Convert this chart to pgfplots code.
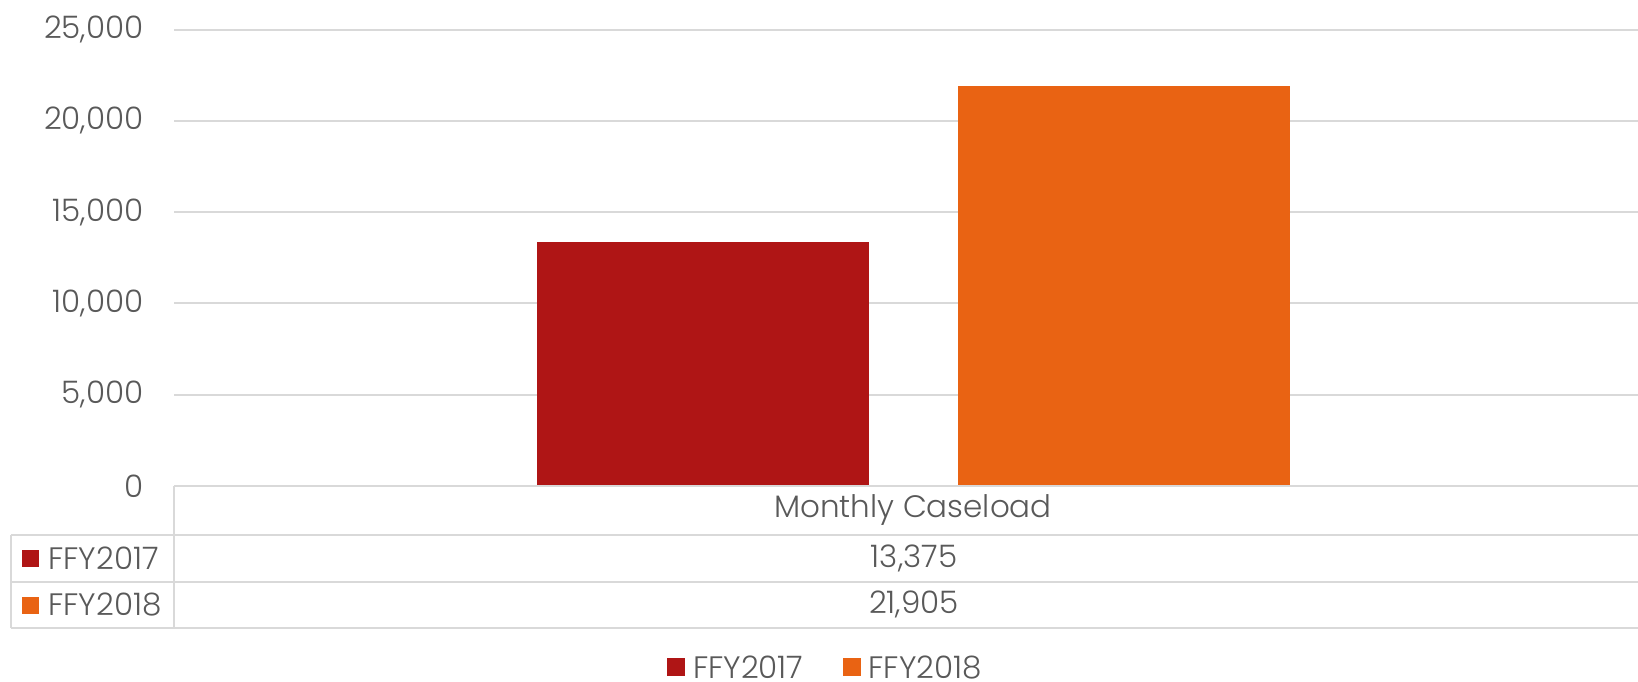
\documentclass[border=0pt]{standalone}
\usepackage{fontspec}
\setmainfont{Poppins}[UprightFont={* Light}]
\usepackage{pgfplots}
\pgfplotsset{compat=1.18}
\definecolor{cA}{RGB}{175,21,21}
\definecolor{cB}{RGB}{233,99,19}
\definecolor{txt}{RGB}{89,89,89}
\definecolor{grd}{RGB}{217,217,217}
\newcommand\cf{\fontsize{15.5}{18}\selectfont}
\begin{document}
\begin{tikzpicture}
\useasboundingbox (0,0) rectangle (819pt,-340.5pt);
\begin{axis}[
  at={(87pt,-243pt)}, anchor=south west,
  scale only axis, width=732pt, height=228.25pt,
  xmin=-0.505, xmax=0.495, ymin=0, ymax=25000,
  ybar=44.5pt, bar width=166pt,
  xtick=\empty, ytick={0,5000,...,25000},
  ymajorgrids, grid style={grd, line width=1pt},
  axis line style={draw=none},
  major tick length=0pt,
  yticklabel style={font=\cf, text=txt, inner sep=0pt, xshift=-15pt},
  /pgf/number format/assume math mode=true,
  /pgf/number format/1000 sep={,},
  scaled y ticks=false,
  clip=false,
  legend columns=2,
  legend image code/.code={\path[#1,draw=none] (0pt,-4.5pt) rectangle (9pt,4.5pt);},
  legend style={draw=none, inner sep=0pt, outer sep=0pt, at={(0.447,-0.397)}, anchor=center, font=\cf, text=txt,
    /tikz/every even column/.append style={column sep=15.5pt},
    nodes={inner xsep=4pt, inner ysep=0pt, text depth=0pt}},
]
\addplot[fill=cA, draw=none] coordinates {(0,13375)};
\addplot[fill=cB, draw=none] coordinates {(0,21905)};
\legend{FFY2017, FFY2018}
\end{axis}
\begin{scope}[grd, line width=1pt]
\draw (87pt,-243pt) -- (819pt,-243pt);
\draw (5.5pt,-267.25pt) -- (819pt,-267.25pt);
\draw (5.5pt,-290.75pt) -- (819pt,-290.75pt);
\draw (5.5pt,-314pt) -- (819pt,-314pt);
\draw (87pt,-243pt) -- (87pt,-314pt);
\draw (5.5pt,-267.25pt) -- (5.5pt,-314pt);
\end{scope}
\begin{scope}[font=\cf, text=txt]
\node at (456.5pt,-255pt) {Monthly Caseload};
\node at (457pt,-279pt) {13,375};
\node at (457pt,-302.4pt) {21,905};
\fill[cA] (11pt,-283.25pt) rectangle (19.5pt,-274.75pt);
\fill[cB] (11pt,-306.75pt) rectangle (19.5pt,-298.25pt);
\node[anchor=west, inner sep=0pt] at (24pt,-279pt) {FFY2017};
\node[anchor=west, inner sep=0pt] at (24pt,-302.4pt) {FFY2018};
\end{scope}
\end{tikzpicture}
\end{document}
